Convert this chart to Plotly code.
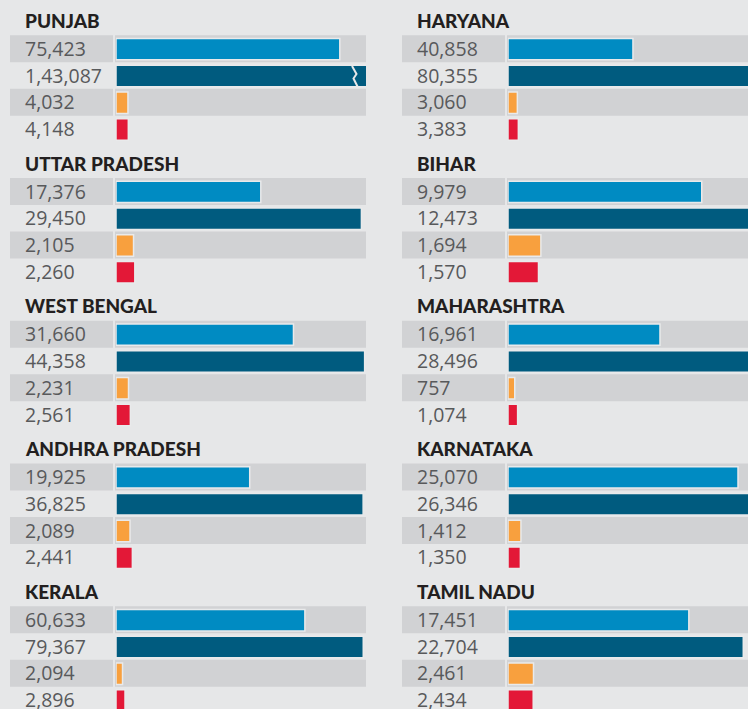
import plotly.graph_objects as go

# ---------------- data ----------------
states = ["PUNJAB", "HARYANA", "UTTAR PRADESH", "BIHAR", "WEST BENGAL",
          "MAHARASHTRA", "ANDHRA PRADESH", "KARNATAKA", "KERALA", "TAMIL NADU"]
series_blue = [75423, 40858, 17376, 9979, 31660, 16961, 19925, 25070, 60633, 17451]
series_dark = [143087, 80355, 29450, 12473, 44358, 28496, 36825, 26346, 79367, 22704]
series_orange = [4032, 3060, 2105, 1694, 2231, 757, 2089, 1412, 2094, 2461]
series_red = [4148, 3383, 2260, 1570, 2561, 1074, 2441, 1350, 2896, 2434]
# per-panel axis maximum (value at the full bar-track width)
axis_max = [84250, 81750, 30000, 12875, 44600, 27900, 37250, 27250, 80250, 24125]

colors = ["#008bc2", "#005b7f", "#f8a03e", "#e31837"]

W, H = 748, 709
OFF = 0
BG = "#e6e7e8"
ROW_GRAY = "#d1d2d4"


def inr(n):
    s = str(n)
    if len(s) <= 3:
        return s
    last3, rest = s[-3:], s[:-3]
    groups = []
    while len(rest) > 2:
        groups.insert(0, rest[-2:])
        rest = rest[:-2]
    if rest:
        groups.insert(0, rest)
    return ",".join(groups + [last3])


def px(x):
    return (x - OFF) / W


def py(y):
    return 1 - (y - OFF) / H


# layout constants (screen pixels)
TOP0 = 35.8
PANEL_PITCH = 142.75
ROW_H = 26.75
COL_OFF = 392
LABEL_X0, LABEL_X1 = 10, 113
TRACK_X0, TRACK_X1 = 115, 366
BAR_X0, BAR_X1 = 116, 366
XMAX = OFF + W
YMAX = OFF + H

fig = go.Figure()
shapes = []
annotations = []

for i, st in enumerate(states):
    col = i % 2
    row = i // 2
    n = i + 1
    xo = col * COL_OFF
    top = TOP0 + row * PANEL_PITCH
    bottom = top + 4 * ROW_H
    yrange_bottom = 3.5
    if bottom > YMAX:
        yrange_bottom = -0.5 + (YMAX - top) / ROW_H
        bottom = YMAX
    vals = [series_blue[i], series_dark[i], series_orange[i], series_red[i]]

    bx0 = BAR_X0 + xo
    bx1 = BAR_X1 + xo
    frac = 1.0
    if bx1 > XMAX:
        frac = (XMAX - bx0) / (bx1 - bx0)
        bx1 = XMAX
    xa = "xaxis" if n == 1 else f"xaxis{n}"
    ya = "yaxis" if n == 1 else f"yaxis{n}"
    xr = "x" if n == 1 else f"x{n}"
    yr = "y" if n == 1 else f"y{n}"

    fig.update_layout({
        xa: dict(domain=[px(bx0), min(1.0, px(bx1))], range=[0, axis_max[i] * frac],
                 visible=False, fixedrange=True, anchor=yr),
        ya: dict(domain=[max(0.0, py(bottom)), py(top)], range=[yrange_bottom, -0.5],
                 visible=False, fixedrange=True, anchor=xr),
    })

    fig.add_trace(go.Bar(
        x=vals, y=[0, 1, 2, 3], orientation="h", width=0.8,
        marker=dict(color=colors, line=dict(color="#e9eaeb", width=1.5)),
        xaxis=xr, yaxis=yr, hoverinfo="skip", showlegend=False,
    ))

    # gray backgrounds on rows 1 and 3
    for k in (0, 2):
        y0 = top + k * ROW_H - 0.6
        y1 = top + (k + 1) * ROW_H - 0.4
        shapes.append(dict(type="rect", xref="paper", yref="paper", layer="below",
                           x0=px(LABEL_X0 + xo), x1=px(LABEL_X1 + xo),
                           y0=py(y1), y1=py(y0), fillcolor=ROW_GRAY, line_width=0))
        shapes.append(dict(type="rect", xref="paper", yref="paper", layer="below",
                           x0=px(TRACK_X0 + xo), x1=px(min(TRACK_X1 + xo, XMAX + 10)),
                           y0=py(y1), y1=py(y0), fillcolor=ROW_GRAY, line_width=0))

    # value labels
    for k, v in enumerate(vals):
        yc = top + (k + 0.5) * ROW_H - 0.8
        annotations.append(dict(
            text=inr(v), xref="paper", yref="paper", x=px(23 + xo), y=py(yc),
            xanchor="left", yanchor="middle", showarrow=False,
            font=dict(family="Open Sans", size=19.5, color="#58595b")))

    # panel title
    annotations.append(dict(
        text=st, xref="paper", yref="paper", x=px(23 + xo), y=py(top - 15.5),
        xanchor="left", yanchor="middle", showarrow=False,
        font=dict(family="Lato", size=19, color="#231f20", weight=900)))

# break mark on the truncated Punjab bar
bt = TOP0 + ROW_H
pts = [(352, bt + 3.5), (356.5, bt + 11.5), (353.5, bt + 16), (357.5, bt + 24)]
path = "M " + " L ".join(f"{px(x):.5f},{py(y):.5f}" for x, y in pts)
shapes.append(dict(type="path", path=path, xref="paper", yref="paper",
                   line=dict(color="#e6e7e8", width=2), layer="above"))

fig.update_layout(
    width=W, height=H,
    margin=dict(l=0, r=0, t=0, b=0),
    paper_bgcolor=BG, plot_bgcolor="rgba(0,0,0,0)",
    shapes=shapes, annotations=annotations,
    bargap=0.2,
)

fig.write_html(
    "out.html",
    config={"displayModeBar": False},
    post_script="document.body.style.margin='0';"
                "document.documentElement.style.overflow='hidden';"
                "document.body.style.background='#e6e7e8';",
)
